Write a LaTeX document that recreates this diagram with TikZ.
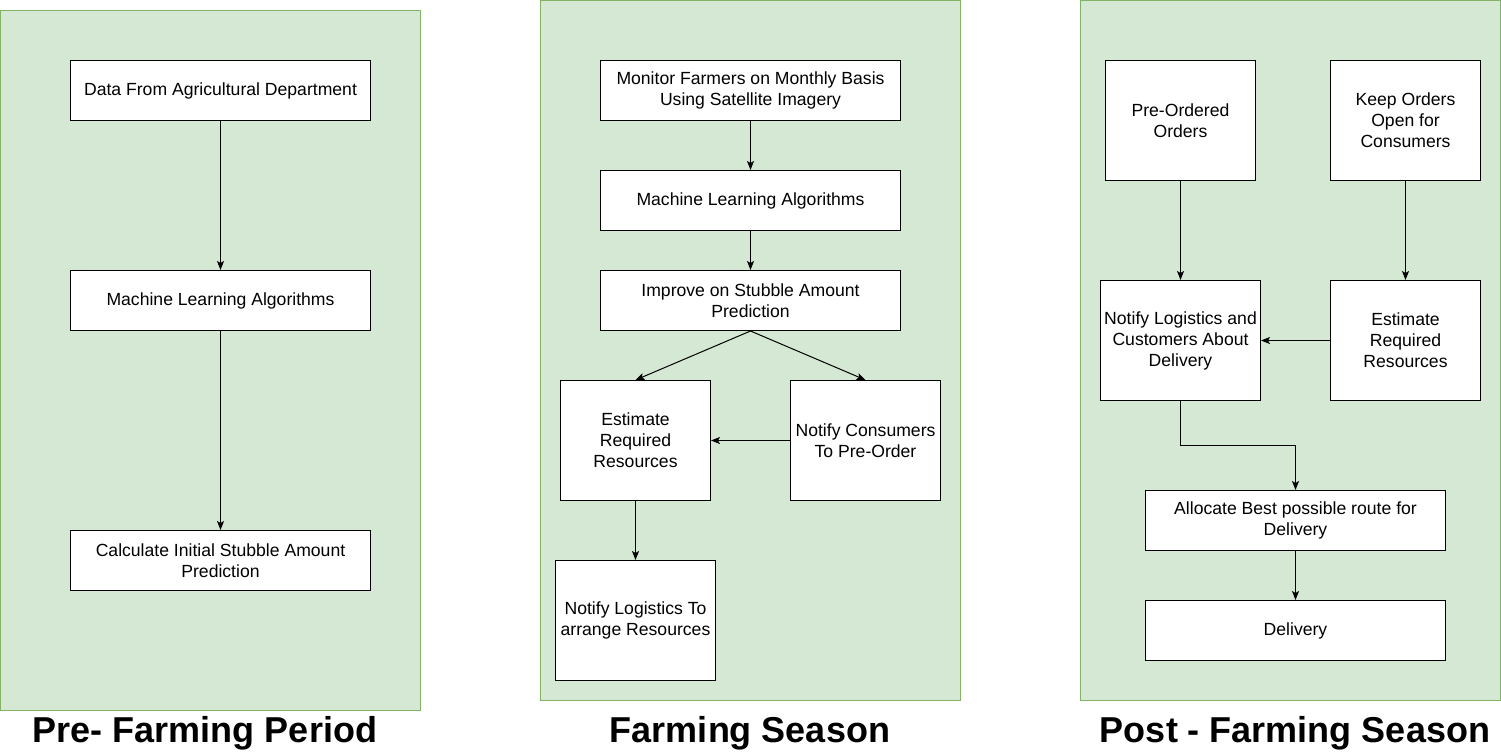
\documentclass[tikz,border=0pt]{standalone}
\usepackage{fontspec}
\setmainfont{Liberation Sans}
\usetikzlibrary{arrows.meta}
\definecolor{panelfill}{HTML}{D5E8D4}
\definecolor{panelline}{HTML}{82B366}
\begin{document}
\begin{tikzpicture}[x=1pt,y=-1pt,
  panel/.style={draw=panelline,fill=panelfill,line width=1pt},
  box/.style={draw=black,fill=white,line width=1pt,align=center,inner sep=0pt,
    font=\fontsize{17.6}{21}\selectfont},
  arr/.style={-{Stealth[length=9pt,width=7pt,inset=2pt]},line width=1pt},
  ttl/.style={font=\fontsize{36}{40}\selectfont\bfseries,inner sep=0pt}]
\useasboundingbox (0,0) rectangle (1501,752);
\fill[white] (0,0) rectangle (1501,752);
% panels
\draw[panel] (0.5,10.5) rectangle (420.5,710.5);
\draw[panel] (540.5,0.5) rectangle (960.5,700.5);
\draw[panel] (1080.5,0.5) rectangle (1500,700.5);
% helper macro for boxes
\newcommand{\bx}[6]{\node[box,minimum width=#3pt,minimum height=#4pt] (#5) at (#1,#2) {#6};}
% panel 1
\bx{220.5}{90.5}{300}{60}{a1}{Data From Agricultural Department}
\bx{220.5}{300.5}{300}{60}{a2}{Machine Learning Algorithms}
\bx{220.5}{560.5}{300}{60}{a3}{Calculate Initial Stubble Amount\\Prediction}
% panel 2
\bx{750.5}{90.5}{300}{60}{b1}{Monitor Farmers on Monthly Basis\\Using Satellite Imagery}
\bx{750.5}{200.5}{300}{60}{b2}{Machine Learning Algorithms}
\bx{750.5}{300.5}{300}{60}{b3}{Improve on Stubble Amount\\Prediction}
\bx{635.5}{440.5}{150}{120}{b4}{Estimate\\Required\\Resources}
\bx{865.5}{440.5}{150}{120}{b5}{Notify Consumers\\To Pre-Order}
\bx{635.5}{620.5}{160}{120}{b6}{Notify Logistics To\\arrange Resources}
% panel 3
\bx{1180.5}{120.5}{150}{120}{c1}{Pre-Ordered\\Orders}
\bx{1405.5}{120.5}{150}{120}{c2}{Keep Orders\\Open for\\Consumers}
\bx{1180.5}{340.5}{160}{120}{c3}{Notify Logistics and\\Customers About\\Delivery}
\bx{1405.5}{340.5}{150}{120}{c4}{Estimate\\Required\\Resources}
\bx{1295.5}{520.5}{300}{60}{c5}{Allocate Best possible route for\\Delivery}
\bx{1295.5}{630.5}{300}{60}{c6}{Delivery}
% arrows
\draw[arr] (a1) -- (a2);
\draw[arr] (a2) -- (a3);
\draw[arr] (b1) -- (b2);
\draw[arr] (b2) -- (b3);
\draw[arr] (b3.south) -- (b4.north);
\draw[arr] (b3.south) -- (b5.north);
\draw[arr] (b5) -- (b4);
\draw[arr] (b4) -- (b6);
\draw[arr] (c1) -- (c3);
\draw[arr] (c2) -- (c4);
\draw[arr] (c4) -- (c3);
\coordinate (k1) at (1180.5,445.5);
\coordinate (k2) at (1295.5,445.5);
\draw[arr] (c3.south) -- (k1) -- (k2) -- (c5.north);
\draw[arr] (c5) -- (c6);
% titles
\node[ttl] (t1) at (205,733) {Pre- Farming Period};
\node[ttl] (t2) at (750,733) {Farming Season};
\node[ttl] (t3) at (1295,733) {Post - Farming Season};
\end{tikzpicture}
\end{document}
